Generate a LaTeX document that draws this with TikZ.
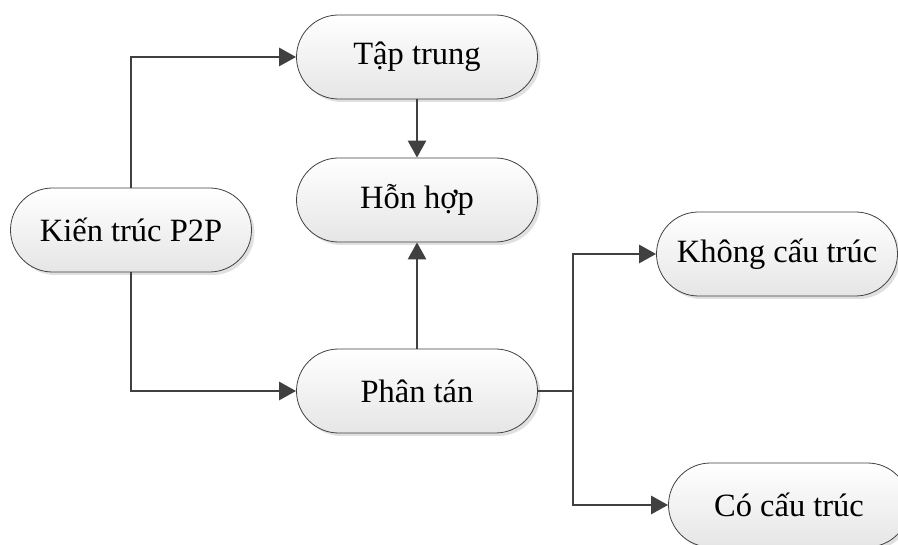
\documentclass[tikz,border=0pt]{standalone}
\usepackage{fontspec}
\setmainfont{Liberation Serif}
\usetikzlibrary{arrows.meta,shadows}
\definecolor{linegray}{HTML}{404040}
\tikzset{
  pill/.style={draw=linegray, line width=0.8pt, rounded corners=42pt,
    minimum width=241pt, minimum height=84pt, inner sep=0pt,
    top color=white, bottom color=black!10,
    drop shadow={shadow xshift=3pt, shadow yshift=-3pt, fill=black!12, opacity=1},
    font=\fontsize{32.5}{38}\selectfont},
  link/.style={draw=linegray, line width=2.8pt,
    -{Triangle[width=18pt,length=17pt]}},
  bus/.style={draw=linegray, line width=2.8pt}
}
\begin{document}
\begin{tikzpicture}[x=1pt,y=-1pt]
  \useasboundingbox (0,0) rectangle (898,545);
  \node[pill] (p2p)  at (131,230) {Kiến trúc P2P};
  \node[pill] (tap)  at (417,57)  {Tập trung};
  \node[pill] (hon)  at (417,200) {Hỗn hợp};
  \node[pill] (phan) at (417,391) {Phân tán};
  \node[pill] (khong) at (777,254) {Không cấu trúc};
  \node[pill] (co)   at (789,505) {Có cấu trúc};
  \coordinate (split) at (573,391);
  \draw[link] (p2p.north) |- (tap.west);
  \draw[link] (p2p.south) |- (phan.west);
  \draw[link] (tap.south) -- (hon.north);
  \draw[link] (phan.north) -- (hon.south);
  \draw[bus] (phan.east) -- (split);
  \draw[link] (split) |- (khong.west);
  \draw[link] (split) |- (co.west);
\end{tikzpicture}
\end{document}
